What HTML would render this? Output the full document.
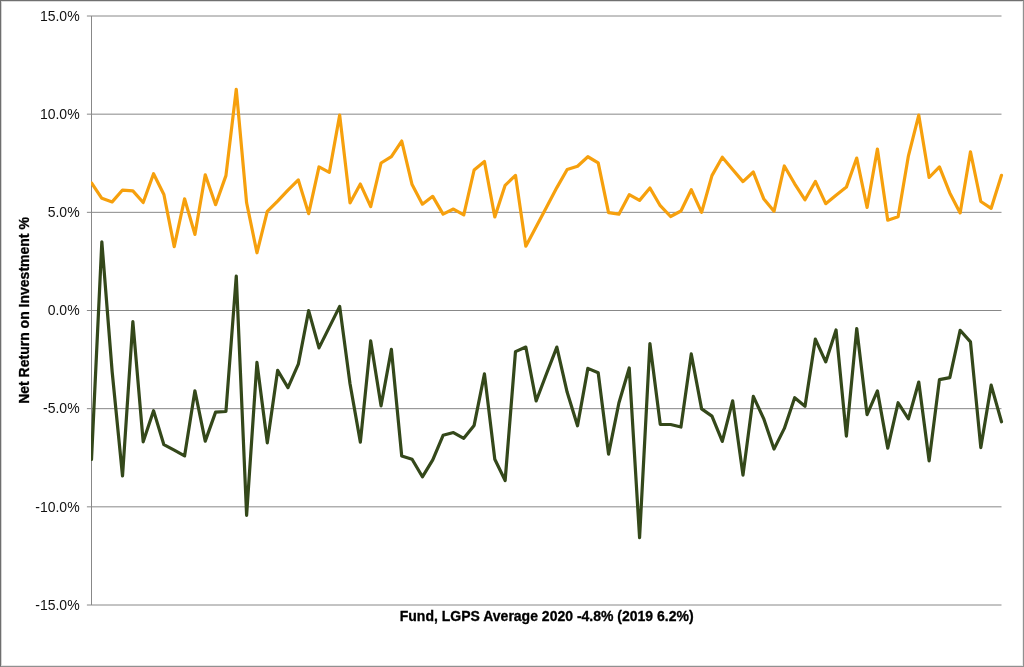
<!DOCTYPE html>
<html><head><meta charset="utf-8"><title>Net Return on Investment</title>
<style>
html,body{margin:0;padding:0;background:#fff;}
body{width:1024px;height:667px;overflow:hidden;position:relative;font-family:"Liberation Sans", sans-serif;}
svg{position:absolute;left:0;top:0;display:block}
.frame{position:absolute;left:0;top:0;width:1024px;height:667px;box-sizing:border-box;border-top:1px solid #707070;border-left:1px solid #6e6e6e;border-right:1px solid #909090;border-bottom:1px solid #909090;}
text{font-family:"Liberation Sans", sans-serif;font-size:14px;fill:#111}
.frame2{position:absolute;left:0;top:0;right:0;bottom:0;border-top:1px solid #dcdcdc;border-left:1px solid #d4d4d4;border-right:1px solid #ececec;border-bottom:1px solid #e6e6e6;}
.b{font-weight:bold;fill:#000;stroke:#000;stroke-width:0.3px}
</style></head><body>
<svg width="1024" height="667" viewBox="0 0 1024 667">
<defs><clipPath id="c"><rect x="91" y="0" width="920" height="667"/></clipPath></defs>
<g stroke="#888888" stroke-width="1" fill="none"><line x1="86.9" x2="1001.5" y1="16.00" y2="16.00"/><line x1="86.9" x2="1001.5" y1="114.17" y2="114.17"/><line x1="86.9" x2="1001.5" y1="212.33" y2="212.33"/><line x1="86.9" x2="1001.5" y1="310.50" y2="310.50"/><line x1="86.9" x2="1001.5" y1="408.67" y2="408.67"/><line x1="86.9" x2="1001.5" y1="506.83" y2="506.83"/><line x1="86.9" x2="1001.5" y1="605.00" y2="605.00"/><line x1="91.5" x2="91.5" y1="16.0" y2="605.0"/></g>
<polyline fill="none" stroke="#F6A00D" stroke-width="3.2" stroke-linejoin="round" stroke-linecap="round" clip-path="url(#c)" points="91.50,183.00 101.84,198.30 112.18,201.90 122.52,190.05 132.86,190.90 143.20,202.50 153.55,173.70 163.89,194.50 174.23,246.60 184.57,198.75 194.91,234.40 205.25,174.85 215.59,204.70 225.93,175.60 236.27,89.30 246.61,202.80 256.95,252.80 267.30,211.40 277.64,201.10 287.98,190.10 298.32,179.95 308.66,213.60 319.00,166.95 329.34,172.30 339.68,115.15 350.02,202.90 360.36,184.05 370.70,206.60 381.05,163.00 391.39,156.60 401.73,141.05 412.07,184.60 422.41,204.20 432.75,196.35 443.09,214.10 453.43,209.05 463.77,214.90 474.11,170.00 484.45,161.45 494.80,216.90 505.14,185.30 515.48,175.35 525.82,246.20 536.16,226.70 546.50,207.20 556.84,187.60 567.18,169.50 577.52,166.20 587.86,156.75 598.20,162.90 608.55,212.70 618.89,214.20 629.23,194.65 639.57,200.40 649.91,188.05 660.25,205.70 670.59,216.50 680.93,211.00 691.27,189.75 701.61,212.40 711.95,175.60 722.30,157.25 732.64,169.50 742.98,181.60 753.32,172.05 763.66,198.70 774.00,211.30 784.34,165.95 794.68,183.80 805.02,199.80 815.36,181.45 825.70,203.70 836.05,195.20 846.39,187.10 856.73,158.05 867.07,207.50 877.41,149.05 887.75,220.20 898.09,216.80 908.43,155.80 918.77,115.15 929.11,177.50 939.45,166.95 949.80,192.90 960.14,212.90 970.48,151.75 980.82,201.50 991.16,208.30 1001.50,175.30"/>
<polyline fill="none" stroke="#34481A" stroke-width="3.2" stroke-linejoin="round" stroke-linecap="round" clip-path="url(#c)" points="91.50,459.40 101.84,241.85 112.18,372.00 122.52,476.00 132.86,321.65 143.20,441.80 153.55,410.65 163.89,444.70 174.23,450.20 184.57,455.90 194.91,390.75 205.25,441.10 215.59,412.10 225.93,411.50 236.27,276.15 246.61,515.30 256.95,362.45 267.30,442.80 277.64,370.45 287.98,387.60 298.32,364.20 308.66,310.65 319.00,347.90 329.34,327.10 339.68,306.35 350.02,383.75 360.36,442.10 370.70,340.95 381.05,405.80 391.39,349.35 401.73,456.00 412.07,459.30 422.41,476.80 432.75,459.90 443.09,435.30 453.43,432.55 463.77,438.30 474.11,425.40 484.45,373.85 494.80,459.30 505.14,480.50 515.48,351.60 525.82,347.05 536.16,401.00 546.50,373.80 556.84,347.05 567.18,392.30 577.52,425.80 587.86,368.35 598.20,372.70 608.55,454.10 618.89,403.00 629.23,367.95 639.57,537.70 649.91,343.55 660.25,424.30 670.59,424.50 680.93,427.00 691.27,353.95 701.61,408.90 711.95,416.10 722.30,441.40 732.64,400.80 742.98,475.10 753.32,396.35 763.66,418.60 774.00,449.10 784.34,428.40 794.68,397.65 805.02,406.30 815.36,339.05 825.70,361.90 836.05,329.95 846.39,436.10 856.73,328.55 867.07,414.65 877.41,390.85 887.75,448.20 898.09,402.75 908.43,418.90 918.77,382.05 929.11,460.90 939.45,379.60 949.80,377.60 960.14,330.25 970.48,341.90 980.82,447.60 991.16,385.15 1001.50,421.80"/>
<g><text x="79.6" y="20.80" text-anchor="end">15.0%</text><text x="79.6" y="118.97" text-anchor="end">10.0%</text><text x="79.6" y="217.13" text-anchor="end">5.0%</text><text x="79.6" y="315.30" text-anchor="end">0.0%</text><text x="79.6" y="413.47" text-anchor="end">-5.0%</text><text x="79.6" y="511.63" text-anchor="end">-10.0%</text><text x="79.6" y="609.80" text-anchor="end">-15.0%</text></g>
<text class="b" x="546.7" y="620.8" text-anchor="middle">Fund, LGPS Average 2020 -4.8% (2019 6.2%)</text>
<text class="b" transform="translate(28.6 310.5) rotate(-90)" text-anchor="middle">Net Return on Investment %</text>
</svg>
<div class="frame"><div class="frame2"></div></div>
</body></html>
